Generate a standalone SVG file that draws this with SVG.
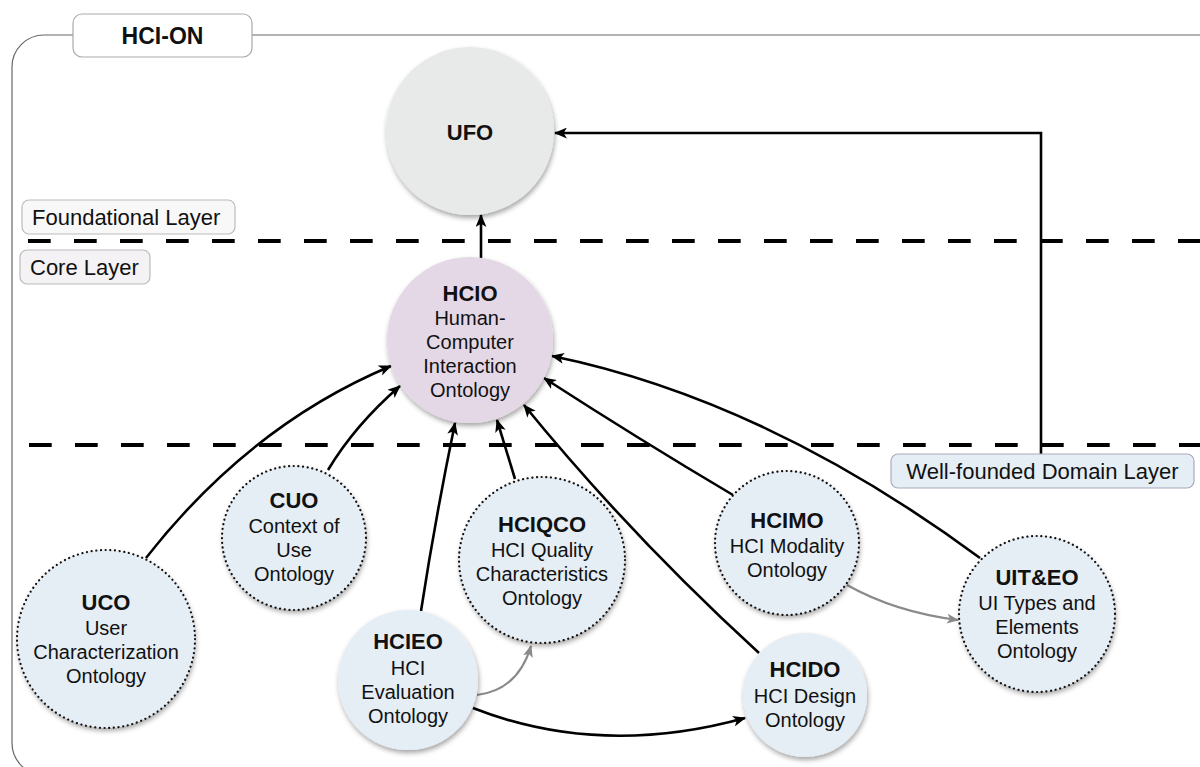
<svg xmlns="http://www.w3.org/2000/svg" width="1200" height="767" viewBox="0 0 1200 767">
<style>
text{font-family:"Liberation Sans",Arial,sans-serif;fill:#111}
.t{font-size:22px;font-weight:bold;text-anchor:middle}
.s{font-size:20px;text-anchor:middle}
.lab{font-size:22px}
.dom{fill:#e5edf5}
.dot{fill:none;stroke:#111;stroke-width:2.2;stroke-dasharray:0.1 4.6;stroke-linecap:round}
.c{fill:none;stroke:#000;stroke-width:2.6}
.g{fill:none;stroke:#8a8a8a;stroke-width:2.2}
.dash{stroke:#000;stroke-width:4;stroke-dasharray:22.7 23.3}
</style>
<defs>
<filter id="sh" x="-20%" y="-20%" width="140%" height="150%">
<feDropShadow dx="1" dy="3" stdDeviation="2.5" flood-color="#000" flood-opacity="0.35"/>
</filter>
<marker id="ab" viewBox="0 0 12 10" refX="11" refY="5" markerWidth="13" markerHeight="11" markerUnits="userSpaceOnUse" orient="auto">
<path d="M0,0 L12,5 L0,10 L3,5 z" fill="#000"/>
</marker>
<marker id="ag" viewBox="0 0 12 10" refX="11" refY="5" markerWidth="12" markerHeight="10" markerUnits="userSpaceOnUse" orient="auto">
<path d="M0,0 L12,5 L0,10 L3,5 z" fill="#8a8a8a"/>
</marker>
</defs>
<rect width="1200" height="767" fill="#fff"/>

<g id="frame">
<rect x="12" y="35" width="1230" height="740" rx="32" fill="none" stroke="#666" stroke-width="1.2"/>
<rect x="73" y="14" width="179" height="43" rx="9" fill="#fff" stroke="#aaa" stroke-width="1.2"/>
<text x="162.5" y="44" style="font-size:23px;font-weight:bold;text-anchor:middle">HCI-ON</text>
</g>

<g id="layers">
<line x1="28" y1="241" x2="1200" y2="241" class="dash"/>
<line x1="29" y1="445" x2="1200" y2="445" class="dash"/>
<rect x="22" y="200" width="213" height="34" rx="7" fill="#f8f8f8" stroke="#bbb" stroke-width="1.2"/>
<text x="32" y="225" class="lab">Foundational Layer</text>
<rect x="20" y="250" width="130" height="34" rx="7" fill="#f4f2f5" stroke="#bbb" stroke-width="1.2"/>
<text x="30" y="275" class="lab">Core Layer</text>
</g>

<g id="connectors">
<line x1="481" y1="258" x2="481" y2="215" class="c" marker-end="url(#ab)"/>
<polyline points="1041,454 1041,133 555,133" class="c" marker-end="url(#ab)"/>
<path d="M146,558 Q250,425 391,366" class="c" marker-end="url(#ab)"/>
<path d="M328,470 Q355,425 400,386" class="c" marker-end="url(#ab)"/>
<path d="M421,611 Q435,520 455,423" class="c" marker-end="url(#ab)"/>
<path d="M515,479 L497,420" class="c" marker-end="url(#ab)"/>
<path d="M759,653 Q630,535 524,405" class="c" marker-end="url(#ab)"/>
<path d="M733,495 Q640,440 544,378" class="c" marker-end="url(#ab)"/>
<path d="M980,558 Q766,400 552,356" class="c" marker-end="url(#ab)"/>
<path d="M473,708 Q600,758 745,718" class="c" marker-end="url(#ab)"/>
<path d="M477,695 Q518,690 531,646" class="g" marker-end="url(#ag)"/>
<path d="M847,585 Q895,612 958,620" class="g" marker-end="url(#ag)"/>
</g>

<g id="UFO">
<circle cx="470" cy="131" r="84" fill="#e8e9e9" filter="url(#sh)"/>
<text x="470" y="140" class="t">UFO</text>
</g>

<g id="HCIO">
<circle cx="470" cy="340" r="83" fill="#e5d8e6" filter="url(#sh)"/>
<text x="470" y="301" class="t">HCIO</text>
<text x="470" y="325" class="s">Human-</text>
<text x="470" y="349" class="s">Computer</text>
<text x="470" y="373" class="s">Interaction</text>
<text x="470" y="397" class="s">Ontology</text>
</g>

<g id="UCO">
<circle cx="106" cy="639" r="89" class="dom" filter="url(#sh)"/>
<circle cx="106" cy="639" r="89" class="dot"/>
<text x="106" y="610" class="t">UCO</text>
<text x="106" y="635" class="s">User</text>
<text x="106" y="659" class="s">Characterization</text>
<text x="106" y="683" class="s">Ontology</text>
</g>

<g id="CUO">
<circle cx="294" cy="538" r="72" class="dom" filter="url(#sh)"/>
<circle cx="294" cy="538" r="72" class="dot"/>
<text x="294" y="508" class="t">CUO</text>
<text x="294" y="533" class="s">Context of</text>
<text x="294" y="557" class="s">Use</text>
<text x="294" y="581" class="s">Ontology</text>
</g>

<g id="HCIQCO">
<circle cx="542" cy="560" r="83" class="dom" filter="url(#sh)"/>
<circle cx="542" cy="560" r="83" class="dot"/>
<text x="542" y="532" class="t">HCIQCO</text>
<text x="542" y="557" class="s">HCI Quality</text>
<text x="542" y="581" class="s">Characteristics</text>
<text x="542" y="605" class="s">Ontology</text>
</g>

<g id="HCIEO">
<circle cx="408" cy="680" r="70" class="dom" filter="url(#sh)"/>
<text x="408" y="649" class="t">HCIEO</text>
<text x="408" y="675" class="s">HCI</text>
<text x="408" y="699" class="s">Evaluation</text>
<text x="408" y="723" class="s">Ontology</text>
</g>

<g id="HCIMO">
<circle cx="787" cy="543" r="72" class="dom" filter="url(#sh)"/>
<circle cx="787" cy="543" r="72" class="dot"/>
<text x="787" y="528" class="t">HCIMO</text>
<text x="787" y="553" class="s">HCI Modality</text>
<text x="787" y="577" class="s">Ontology</text>
</g>

<g id="HCIDO">
<circle cx="805" cy="695" r="62" class="dom" filter="url(#sh)"/>
<text x="805" y="677" class="t">HCIDO</text>
<text x="805" y="703" class="s">HCI Design</text>
<text x="805" y="727" class="s">Ontology</text>
</g>

<g id="UITEO">
<circle cx="1037" cy="614" r="78" class="dom" filter="url(#sh)"/>
<circle cx="1037" cy="614" r="78" class="dot"/>
<text x="1037" y="585" class="t">UIT&amp;EO</text>
<text x="1037" y="610" class="s">UI Types and</text>
<text x="1037" y="634" class="s">Elements</text>
<text x="1037" y="658" class="s">Ontology</text>
</g>

<g id="domainLabel">
<rect x="891" y="454" width="303" height="34" rx="7" fill="#e5edf5" stroke="#aab" stroke-width="1.2"/>
<text x="1042.5" y="479" class="lab" text-anchor="middle">Well-founded Domain Layer</text>
</g>
</svg>
